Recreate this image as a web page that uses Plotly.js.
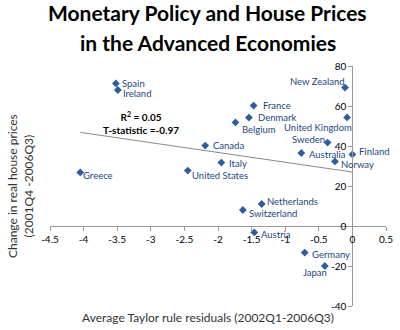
<!DOCTYPE html>
<html><head><meta charset="utf-8">
<script src="https://cdn.plot.ly/plotly-3.0.1.min.js"></script>
<style>html,body{margin:0;padding:0;background:#fff}#chart{width:400px;height:330px}</style>
</head><body><div id="chart"></div>
<script>
// Data
const countries = ["Spain","Ireland","Greece","Canada","Italy","United States","Belgium","France","Denmark","New Zealand","United Kingdom","Sweden","Australia","Finland","Norway","Netherlands","Switzerland","Austria","Germany","Japan"];
const taylorResiduals = [-3.52,-3.49,-4.05,-2.19,-1.95,-2.45,-1.74,-1.47,-1.54,-0.11,-0.08,-0.37,-0.76,0.0,-0.26,-1.35,-1.63,-1.46,-0.71,-0.41];
const housePriceChange = [71.3,68.0,26.8,40.2,31.7,27.7,51.8,60.2,54.2,69.2,54.3,41.7,36.5,35.8,32.3,11.0,8.0,-3.2,-13.3,-20.0];
const xTicks = [-4.5,-4,-3.5,-3,-2.5,-2,-1.5,-1,-0.5,0,0.5];
const yTicks = [-40,-20,0,20,40,60,80];
const statsText = ["R<sup>2</sup> = 0.05","T-statistic =-0.97"];
const titleLines = ["Monetary Policy and House Prices","in the Advanced Economies"];

// Label placement (style only): [xanchor, xshift, yshift]
const labelPlacement = [
 ["left",4,0],["left",3,-3],["left",1,-3],["left",6,0],["left",6,-1],["left",2,-5],
 ["left",5,-7],["left",7,0],["left",7,0],["right",2,6],["right",7,-10],["right",-1,3],
 ["left",6,-1],["left",5,3],["left",4,-3],["left",3,3],["left",4,-3],["left",5,-2],
 ["left",5,-2],["right",4,-6]
];

// least-squares trend line from the data
const n = taylorResiduals.length;
const mx = taylorResiduals.reduce((a,b)=>a+b,0)/n;
const my = housePriceChange.reduce((a,b)=>a+b,0)/n;
let sxy=0,sxx=0;
for(let i=0;i<n;i++){sxy+=(taylorResiduals[i]-mx)*(housePriceChange[i]-my);sxx+=(taylorResiduals[i]-mx)**2;}
const slope=sxy/sxx, icpt=my-slope*mx;
const xmin=Math.min(...taylorResiduals), xmax=Math.max(...taylorResiduals);

const labelColor='#24467F';
const font='Lato, "Open Sans", sans-serif';

const traces=[
 {x:[xmin,xmax],y:[icpt+slope*xmin,icpt+slope*xmax],mode:'lines',line:{color:'#8a8a8a',width:1},hoverinfo:'skip'},
 {x:taylorResiduals,y:housePriceChange,mode:'markers',marker:{symbol:'diamond',size:6,color:'#2E5D9F'}}
];

const ann = countries.map((c,i)=>({x:taylorResiduals[i],y:housePriceChange[i],xref:'x',yref:'y',text:c,showarrow:false,
  xanchor:labelPlacement[i][0],yanchor:'middle',xshift:labelPlacement[i][1],yshift:labelPlacement[i][2],
  font:{family:font,size:9.5,color:labelColor}}));
ann.push({x:-3.14,y:51.5,xref:'x',yref:'y',text:statsText.join('<br>'),showarrow:false,align:'center',
  font:{family:font,size:10,color:'#000',weight:'bold'}});
ann.push({x:0.47,y:0,xref:'paper',yref:'paper',xanchor:'center',yanchor:'top',text:'Average Taylor rule residuals (2002Q1-2006Q3)',showarrow:false,
  yshift:-2,font:{family:font,size:12,color:'#333'}});
ann.push({xref:'paper',yref:'paper',x:0,y:0.5,xshift:-30,textangle:-90,text:'Change in real house prices<br>(2001Q4 -2006Q3)',showarrow:false,
  xanchor:'center',yanchor:'middle',font:{family:font,size:12,color:'#333'}});
titleLines.forEach((t,i)=>ann.push({xref:'paper',yref:'paper',x:0.47,y:1,xanchor:'center',yanchor:'middle',yshift:54-30*i,text:t,showarrow:false,
  font:{family:font,size:21,color:'#000',weight:'bold'}}));

const layout={
 width:400,height:330,margin:{l:50,r:14,t:66,b:24},paper_bgcolor:'#fff',plot_bgcolor:'#fff',showlegend:false,
 xaxis:{range:[-4.5,0.5],tickvals:xTicks,ticktext:xTicks.map(String),showgrid:false,zeroline:false,showline:true,linecolor:'#999',linewidth:1,
   ticks:'outside',ticklen:4,tickcolor:'#999',anchor:'free',position:1/3,tickfont:{family:font,size:10,color:'#000'}},
 yaxis:{range:[-40,80],tickvals:yTicks,ticktext:yTicks.map(String),showgrid:false,zeroline:false,showline:true,linecolor:'#999',linewidth:1,
   ticks:'outside',ticklen:4,tickcolor:'#999',anchor:'free',position:0.9,tickfont:{family:font,size:10,color:'#000'}},
 annotations:ann
};
Plotly.newPlot('chart',traces,layout,{displayModeBar:false,staticPlot:true});
</script></body></html>
